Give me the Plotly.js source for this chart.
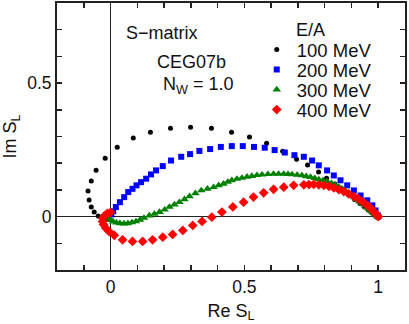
<!DOCTYPE html>
<html>
<head>
<meta charset="utf-8">
<script src="https://cdn.plot.ly/plotly-3.0.1.min.js"></script>
<style>
  html, body { margin: 0; padding: 0; background: #fff; }
  #chart { width: 409px; height: 324px; }
</style>
</head>
<body>
<div id="chart"></div>
<script>
const FONT_FAMILY = 'Liberation Sans, Arial, sans-serif';
const INK = '#222';

const SERIES_NAMES = ['100 MeV', '200 MeV', '300 MeV', '400 MeV'];

// S_L for increasing L
const RE_100 = [-0.010, -0.027, -0.046, -0.061, -0.072, -0.080, -0.084, -0.072, -0.054, -0.020,
  0.025, 0.085, 0.149, 0.224, 0.299, 0.377, 0.452, 0.519, 0.583, 0.643, 0.695, 0.736, 0.777,
  0.807, 0.838, 0.866, 0.890, 0.912, 0.932, 0.949, 0.963, 0.975, 0.984, 0.991, 0.996, 0.999, 1.000];
const IM_100 = [-0.008, -0.006, 0.002, 0.017, 0.036, 0.062, 0.096, 0.133, 0.174, 0.219,
  0.260, 0.294, 0.316, 0.331, 0.335, 0.331, 0.316, 0.298, 0.275, 0.245, 0.215, 0.193, 0.167,
  0.144, 0.122, 0.100, 0.081, 0.064, 0.049, 0.036, 0.025, 0.016, 0.009, 0.005, 0.002, 0.001, 0.000];

const RE_200 = [0.003, 0.010, 0.020, 0.035, 0.051, 0.066, 0.082, 0.097, 0.114, 0.133, 0.151,
  0.170, 0.195, 0.226, 0.264, 0.297, 0.332, 0.372, 0.412, 0.453, 0.494, 0.536, 0.576, 0.613,
  0.651, 0.687, 0.722, 0.753, 0.778, 0.809, 0.834, 0.859, 0.884, 0.909, 0.934, 0.959, 0.978,
  0.990, 0.998, 1.000];
const IM_200 = [0.008, 0.020, 0.036, 0.054, 0.073, 0.092, 0.104, 0.117, 0.129, 0.142, 0.158,
  0.173, 0.189, 0.210, 0.224, 0.234, 0.246, 0.253, 0.261, 0.264, 0.264, 0.261, 0.258, 0.249,
  0.240, 0.230, 0.224, 0.210, 0.192, 0.173, 0.154, 0.136, 0.117, 0.098, 0.079, 0.061, 0.042,
  0.023, 0.005, 0.000];

const RE_300 = [-0.005, 0.000, 0.010, 0.022, 0.035, 0.050, 0.065, 0.080, 0.095, 0.110, 0.125,
  0.145, 0.164, 0.183, 0.202, 0.220, 0.239, 0.257, 0.276, 0.295, 0.317, 0.339, 0.362, 0.385,
  0.404, 0.422, 0.438, 0.453, 0.472, 0.491, 0.510, 0.528, 0.547, 0.566, 0.588, 0.609, 0.628,
  0.647, 0.663, 0.678, 0.697, 0.715, 0.731, 0.747, 0.763, 0.778, 0.794, 0.809, 0.825, 0.840,
  0.853, 0.865, 0.878, 0.890, 0.900, 0.910, 0.920, 0.930, 0.940, 0.950, 0.958, 0.965, 0.972,
  0.978, 0.983, 0.988, 0.992, 0.995, 0.998, 1.000];
const IM_300 = [-0.005, -0.013, -0.019, -0.023, -0.025, -0.026, -0.025, -0.022, -0.018, -0.012,
  -0.005, 0.004, 0.010, 0.017, 0.026, 0.036, 0.045, 0.054, 0.065, 0.076, 0.087, 0.098, 0.104,
  0.110, 0.117, 0.123, 0.130, 0.136, 0.141, 0.145, 0.149, 0.152, 0.155, 0.157, 0.159, 0.160,
  0.160, 0.160, 0.159, 0.158, 0.156, 0.154, 0.151, 0.148, 0.144, 0.139, 0.136, 0.132, 0.125,
  0.118, 0.111, 0.104, 0.096, 0.088, 0.080, 0.072, 0.064, 0.056, 0.049, 0.042, 0.035, 0.029,
  0.023, 0.018, 0.013, 0.009, 0.006, 0.003, 0.001, 0.000];

const RE_400 = [0.000, -0.012, -0.022, -0.029, -0.030, -0.026, -0.018, -0.005, 0.014, 0.045,
  0.082, 0.120, 0.157, 0.195, 0.232, 0.270, 0.307, 0.342, 0.378, 0.416, 0.457, 0.497, 0.534,
  0.572, 0.609, 0.647, 0.684, 0.722, 0.741, 0.759, 0.778, 0.797, 0.816, 0.834, 0.853, 0.871,
  0.890, 0.909, 0.925, 0.940, 0.953, 0.965, 0.975, 0.983, 0.990, 0.996, 1.000];
const IM_400 = [0.016, 0.012, 0.004, -0.006, -0.018, -0.030, -0.043, -0.056, -0.070, -0.087,
  -0.093, -0.093, -0.087, -0.077, -0.067, -0.052, -0.033, -0.018, -0.002, 0.017, 0.036, 0.054,
  0.073, 0.089, 0.102, 0.110, 0.117, 0.119, 0.120, 0.121, 0.119, 0.117, 0.113, 0.108, 0.101,
  0.094, 0.085, 0.076, 0.067, 0.057, 0.047, 0.038, 0.028, 0.019, 0.011, 0.004, 0.000];

const X_MAJOR = [0, 0.5, 1];
const X_TICK_TEXT = ['0', '0.5', '1'];
const Y_MAJOR = [0, 0.5];
const Y_TICK_TEXT = ['0', '0.5'];

const SERIES = [
  {re: RE_100, im: IM_100, symbol: 'circle', size: 5, color: '#000000'},
  {re: RE_200, im: IM_200, symbol: 'square', size: 6, color: '#0000ff'},
  {re: RE_300, im: IM_300, symbol: 'triangle-up', size: 7.5, color: '#008000'},
  {re: RE_400, im: IM_400, symbol: 'diamond', size: 7.5, color: '#ff0000'},
];

const LEGEND_KEYS = ['legend', 'legend2', 'legend3', 'legend4'];

const traces = SERIES.map((s, i) => ({
  x: s.re,
  y: s.im,
  type: 'scatter',
  mode: 'markers',
  name: SERIES_NAMES[i],
  legend: LEGEND_KEYS[i],
  marker: {symbol: s.symbol, size: s.size, color: s.color, line: {width: 0}},
  cliponaxis: false,
}));

function legendAt(y) {
  return {
    x: 0.574, y: y, xanchor: 'left', yanchor: 'middle',
    bgcolor: 'rgba(0,0,0,0)', borderwidth: 0,
    font: {family: FONT_FAMILY, size: 18.5, color: '#111'},
  };
}

const titleFont = {family: FONT_FAMILY, size: 18, color: '#111'};

function axis(range, tickvals, ticktext, title) {
  return {
    range: range,
    tickmode: 'array',
    tickvals: tickvals,
    ticktext: ticktext,
    ticks: 'inside',
    ticklen: 5,
    tickwidth: 1.5,
    tickcolor: INK,
    minor: {dtick: 0.1, tick0: 0, ticks: 'inside', ticklen: 5, tickwidth: 1.5, tickcolor: INK, showgrid: false},
    showline: true,
    linecolor: INK,
    linewidth: 2,
    mirror: 'ticks',
    showgrid: false,
    zeroline: true,
    zerolinecolor: INK,
    zerolinewidth: 1.2,
    tickfont: {family: FONT_FAMILY, size: 17.5, color: '#111'},
    title: {text: title, font: titleFont},
    fixedrange: true,
  };
}

const xaxis = axis([-0.2, 1.1], X_MAJOR, X_TICK_TEXT, 'Re S<sub>L</sub>');
xaxis.title.standoff = 8;

const layout = {
  width: 409,
  height: 324,
  margin: {l: 57, r: 4, t: 3, b: 54},
  paper_bgcolor: '#ffffff',
  plot_bgcolor: '#ffffff',
  showlegend: true,
  xaxis: xaxis,
  yaxis: axis([-0.2, 0.8], Y_MAJOR, Y_TICK_TEXT, 'Im S<sub>L</sub>'),
  legend: legendAt(0.824),
  legend2: legendAt(0.749),
  legend3: legendAt(0.674),
  legend4: legendAt(0.599),
  annotations: [
    {x: 0.051, y: 0.687, xref: 'x', yref: 'y', xanchor: 'left', yanchor: 'middle', showarrow: false, text: 'S\u2212matrix', font: titleFont},
    {x: 0.302, y: 0.579, xref: 'x', yref: 'y', xanchor: 'center', yanchor: 'middle', showarrow: false, text: 'CEG07b', font: titleFont},
    {x: 0.325, y: 0.492, xref: 'x', yref: 'y', xanchor: 'center', yanchor: 'middle', showarrow: false, text: 'N<sub>W</sub> = 1.0', font: titleFont},
    {x: 0.746, y: 0.698, xref: 'x', yref: 'y', xanchor: 'center', yanchor: 'middle', showarrow: false, text: 'E/A', font: titleFont},
  ],
};

Plotly.newPlot('chart', traces, layout, {staticPlot: true, displayModeBar: false});
</script>
</body>
</html>
